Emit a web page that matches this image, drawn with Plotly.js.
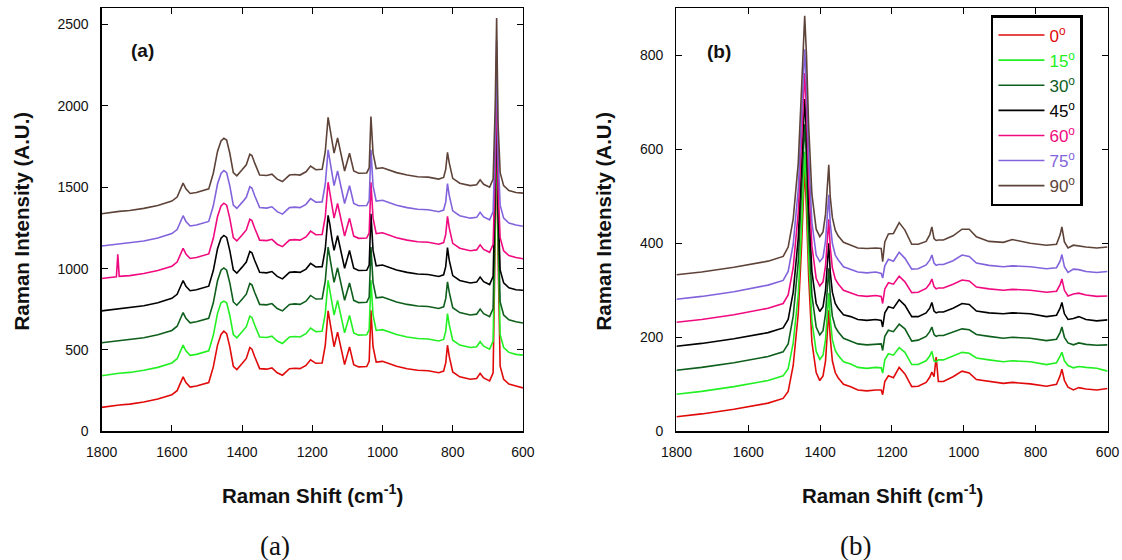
<!DOCTYPE html>
<html>
<head>
<meta charset="utf-8">
<script src="https://cdn.plot.ly/plotly-3.0.1.min.js"></script>
<style>html,body{margin:0;padding:0;background:#fff}#chart{width:1122px;height:560px}</style>
</head>
<body>
<div id="chart"></div>
<script>
// ---------- data: panel (a) ----------
const shiftA = [1800,1758,1754,1750,1720,1680,1640,1600,1585,1575,1568,1560,1548,1530,1510,1495,1482,1470,1460,1452,1444,1435,1425,1415,1400,1388,1378,1372,1364,1350,1330,1315,1300,1285,1265,1250,1235,1218,1205,1190,1172,1163,1155,1150,1144,1138,1128,1118,1108,1094,1082,1068,1045,1038,1033,1027,1018,1000,980,960,930,900,870,840,826,820,815,810,800,780,750,732,722,712,695,685,679,675,671,665,655,640,620,600];

const a0 = [147,160,161,162,167,180,198,225,250,295,335,300,272,278,290,300,396,530,595,615,600,519,400,380,417,448,515,505,458,385,382,390,360,345,385,388,385,405,440,418,420,530,740,680,590,520,610,500,410,519,410,396,398,430,744,520,425,430,415,400,385,375,372,360,370,420,529,460,365,335,320,325,356,328,310,360,1200,1900,1100,400,320,290,278,267];
const a15 = [341,355,356,357,362,375,393,420,446,490,530,495,467,473,485,495,590,725,790,800,790,712,595,575,612,643,708,700,653,580,577,585,555,540,580,583,580,600,635,613,615,725,928,870,785,715,805,695,605,712,605,591,593,625,928,715,620,625,610,595,580,570,567,555,565,615,724,655,560,530,515,520,551,523,505,555,1300,2000,1200,595,515,485,473,468];
const a30 = [544,555,556,557,562,575,593,620,646,690,730,695,667,673,685,695,790,925,990,1004,990,912,795,775,812,843,908,900,853,780,777,785,755,740,780,783,780,800,835,813,815,925,1132,1075,985,915,1005,895,805,912,805,791,793,825,1132,915,820,825,810,795,780,770,767,755,765,815,918,855,760,730,715,720,751,723,705,755,1400,2100,1300,795,715,685,673,666];
const a45 = [740,752,753,754,759,772,790,817,842,887,927,892,864,870,882,892,988,1122,1187,1204,1192,1111,992,972,1009,1040,1105,1097,1050,977,974,982,952,937,977,980,977,997,1032,1010,1012,1122,1327,1272,1182,1112,1202,1092,1002,1111,1002,988,990,1022,1337,1112,1017,1022,1007,992,977,967,964,952,962,1012,1129,1052,957,927,912,917,948,920,902,952,1500,2200,1400,992,912,882,870,867];
const a60 = [939,950,1088,952,957,970,988,1015,1040,1085,1125,1090,1062,1068,1080,1090,1186,1320,1385,1402,1390,1309,1190,1170,1207,1238,1303,1295,1248,1175,1172,1180,1150,1135,1175,1178,1175,1195,1230,1208,1210,1320,1531,1470,1380,1310,1400,1290,1200,1309,1200,1186,1188,1220,1531,1310,1215,1220,1205,1190,1175,1165,1162,1150,1160,1210,1321,1250,1155,1125,1110,1115,1146,1118,1100,1150,1600,2300,1500,1190,1110,1080,1068,1061];
const a75 = [1139,1150,1151,1152,1157,1170,1188,1215,1240,1285,1325,1290,1262,1268,1280,1290,1386,1520,1585,1603,1590,1509,1390,1370,1407,1438,1503,1495,1448,1375,1372,1380,1350,1335,1375,1378,1375,1395,1430,1408,1410,1520,1730,1670,1580,1510,1600,1490,1400,1509,1400,1386,1388,1420,1730,1510,1415,1420,1405,1390,1375,1365,1362,1350,1360,1410,1522,1450,1355,1325,1310,1315,1346,1318,1300,1350,1800,2400,1700,1390,1310,1280,1268,1260];
const a90 = [1337,1350,1351,1352,1357,1370,1388,1415,1440,1485,1525,1490,1462,1468,1480,1490,1586,1720,1785,1801,1790,1709,1590,1570,1607,1638,1703,1695,1648,1575,1572,1580,1550,1535,1575,1578,1575,1595,1630,1608,1610,1720,1930,1870,1780,1710,1803,1690,1600,1709,1600,1586,1588,1620,1934,1710,1615,1620,1605,1590,1575,1565,1562,1550,1560,1610,1715,1650,1555,1525,1510,1515,1546,1518,1500,1550,2000,2540,1900,1590,1510,1480,1468,1464];

// ---------- data: panel (b) ----------
const shiftB = [1800,1730,1640,1545,1503,1489,1475,1461,1452,1447,1443,1438,1432,1423,1411,1401,1392,1385,1380,1376,1372,1366,1358,1350,1335,1315,1295,1270,1245,1230,1226,1220,1210,1196,1180,1164,1145,1127,1105,1095,1089,1083,1077,1071,1057,1030,1005,985,965,930,890,865,815,770,742,732,727,720,710,695,680,660,630,600];

const b0 = [31,37,47,60,70,85,140,250,390,490,565,470,330,190,125,108,118,150,210,258,200,150,125,114,100,95,88,86,88,88,78,106,118,114,136,122,95,96,104,115,126,116,158,106,106,116,128,124,110,106,102,104,101,96,100,118,132,108,94,88,93,90,88,91];
const b15 = [79,85,95,108,118,133,188,290,430,525,595,510,370,235,170,153,162,195,250,294,240,195,172,162,148,143,136,134,136,135,124,152,165,162,178,168,142,142,150,160,170,150,148,152,152,160,168,166,156,152,148,150,148,142,146,160,168,150,140,135,138,136,134,128];
const b30 = [130,136,146,159,169,186,245,360,510,600,653,580,430,290,222,205,214,250,305,347,290,245,222,212,198,192,186,184,186,186,172,202,215,212,228,218,192,194,202,212,222,206,202,204,204,212,218,216,206,202,198,200,198,193,196,210,222,200,188,184,188,185,183,184];
const b45 = [181,187,197,210,220,238,296,410,560,655,707,630,480,340,272,255,265,300,358,400,340,296,272,262,248,244,238,236,238,236,222,252,265,262,280,268,244,244,252,262,274,256,252,254,254,262,272,270,256,252,250,252,250,244,247,262,274,250,238,240,244,238,235,237];
const b60 = [232,238,248,262,272,290,348,465,615,710,762,685,535,395,325,309,318,352,410,451,392,348,324,314,300,295,289,287,289,287,272,303,316,313,330,318,295,296,304,314,324,308,303,305,305,313,322,320,307,303,300,302,300,296,298,312,324,300,288,292,294,290,287,288];
const b75 = [281,287,297,311,321,340,398,515,665,760,813,735,585,445,375,361,370,405,462,503,444,400,375,365,350,345,339,337,339,336,326,352,366,362,381,368,345,346,354,364,375,358,353,355,355,363,375,372,358,353,350,352,350,346,348,362,376,350,338,345,344,340,338,340];
const b90 = [333,339,349,362,372,392,452,570,725,825,884,800,650,505,430,414,424,462,522,567,500,455,428,416,402,396,390,389,390,389,361,403,420,421,444,428,398,398,404,418,435,410,406,407,407,416,430,430,414,404,402,408,400,396,398,418,435,403,390,396,394,392,390,392];

const angleLabels = ['0', '15', '30', '45', '60', '75', '90'];
const colors = ['#e00a0a', '#22f022', '#0e5e1c', '#000000', '#f00a80', '#8263dc', '#5e4339'];
const seriesA = [a0, a15, a30, a45, a60, a75, a90];
const seriesB = [b0, b15, b30, b45, b60, b75, b90];

const traces = [];
seriesA.forEach((ys, i) => {
  traces.push({
    x: shiftA, y: ys, type: 'scatter', mode: 'lines',
    line: {color: colors[i], width: 1.6},
    xaxis: 'x', yaxis: 'y', showlegend: false, hoverinfo: 'skip'
  });
});
seriesB.forEach((ys, i) => {
  traces.push({
    x: shiftB, y: ys, type: 'scatter', mode: 'lines',
    line: {color: colors[i], width: 1.6},
    xaxis: 'x2', yaxis: 'y2',
    name: '<span style="color:' + colors[i] + '">' + angleLabels[i] + '<sup>o</sup></span>',
    showlegend: true
  });
});

const tickFont = {family: 'Liberation Sans, Arial, sans-serif', size: 14, color: '#111'};
function xAx(domain, anchor) {
  return {
    domain: domain, anchor: anchor, range: [1800, 600], autorange: false,
    tick0: 0, dtick: 200, ticks: 'inside', ticklen: 6, tickwidth: 1, tickcolor: '#000',
    showline: true, linecolor: '#000', linewidth: 1.3, mirror: 'ticks',
    showgrid: false, zeroline: false, tickfont: tickFont, ticklabelstandoff: 8
  };
}
function yAx(domain, anchor, range, dtick) {
  return {
    domain: domain, anchor: anchor, range: range, autorange: false,
    tick0: 0, dtick: dtick, ticks: 'inside', ticklen: 6, tickwidth: 1, tickcolor: '#000',
    showline: true, linecolor: '#000', linewidth: 1.3, mirror: 'ticks',
    showgrid: false, zeroline: false, tickfont: tickFont, ticklabelstandoff: 9
  };
}

const titleFont = {family: 'Liberation Sans, Arial, sans-serif', size: 20.5, color: '#111'};
const capFont = {family: 'Liberation Serif, DejaVu Serif, serif', size: 27, color: '#111'};
const panelFont = {family: 'Liberation Sans, Arial, sans-serif', size: 19, color: '#111'};

const layout = {
  width: 1122, height: 560,
  margin: {l: 0, r: 0, t: 0, b: 0},
  paper_bgcolor: '#fff', plot_bgcolor: '#fff',
  xaxis: xAx([0.0906, 0.4661], 'y'),
  yaxis: yAx([0.2298, 0.9852], 'x', [0, 2600], 500),
  xaxis2: xAx([0.6029, 0.9871], 'y2'),
  yaxis2: yAx([0.2298, 0.9852], 'x2', [0, 900], 200),
  showlegend: true,
  legend: {
    x: 0.8832, y: 0.9732, xanchor: 'left', yanchor: 'top',
    bgcolor: '#fff', bordercolor: '#000', borderwidth: 2.5,
    font: {family: 'Liberation Sans, Arial, sans-serif', size: 17, color: '#111'},
    itemwidth: 46, traceorder: 'normal', tracegroupgap: 0
  },
  annotations: [
    {text: '<b>Raman Intensity (A.U.)</b>', textangle: -90, xref: 'paper', yref: 'paper',
     x: 21/1122, y: 1 - 221.5/560, xanchor: 'center', yanchor: 'middle', showarrow: false, font: titleFont},
    {text: '<b>Raman Intensity (A.U.)</b>', textangle: -90, xref: 'paper', yref: 'paper',
     x: 603/1122, y: 1 - 221.5/560, xanchor: 'center', yanchor: 'middle', showarrow: false, font: titleFont},
    {text: '<b>Raman Shift (cm<sup>-1</sup>)</b>', xref: 'paper', yref: 'paper',
     x: 312.4/1122, y: 1 - 494/560, xanchor: 'center', yanchor: 'middle', showarrow: false, font: titleFont},
    {text: '<b>Raman Shift (cm<sup>-1</sup>)</b>', xref: 'paper', yref: 'paper',
     x: 892/1122, y: 1 - 494/560, xanchor: 'center', yanchor: 'middle', showarrow: false, font: titleFont},
    {text: '<b>(a)</b>', xref: 'paper', yref: 'paper', x: 142/1122, y: 1 - 50/560,
     xanchor: 'center', yanchor: 'middle', showarrow: false, font: panelFont},
    {text: '<b>(b)</b>', xref: 'paper', yref: 'paper', x: 719/1122, y: 1 - 51/560,
     xanchor: 'center', yanchor: 'middle', showarrow: false, font: panelFont},
    {text: '(a)', xref: 'paper', yref: 'paper', x: 275/1122, y: 1 - 546/560,
     xanchor: 'center', yanchor: 'middle', showarrow: false, font: capFont},
    {text: '(b)', xref: 'paper', yref: 'paper', x: 855/1122, y: 1 - 546/560,
     xanchor: 'center', yanchor: 'middle', showarrow: false, font: capFont}
  ]
};

Plotly.newPlot('chart', traces, layout, {staticPlot: true, displayModeBar: false});
</script>
</body>
</html>
